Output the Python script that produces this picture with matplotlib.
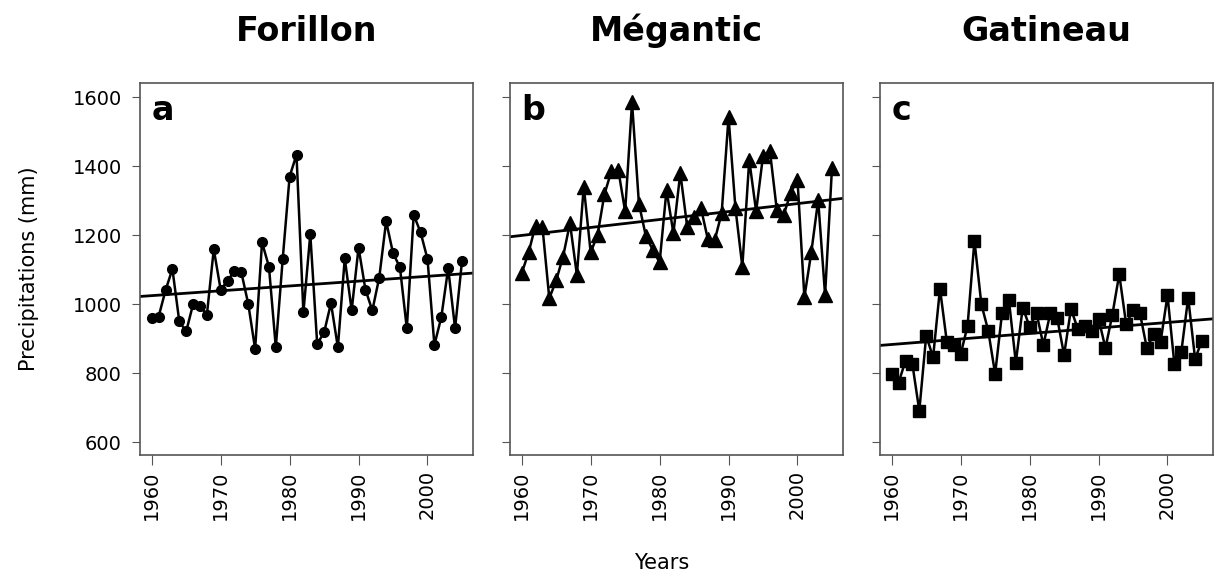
import numpy as np
import matplotlib.pyplot as plt

# ------------------ data ------------------
years = np.arange(1960, 2006)

forillon = [961, 964, 1040, 1102, 950, 921, 1000, 995, 969, 1159,
            1042, 1068, 1096, 1092, 1001, 870, 1179, 1109, 875, 1131,
            1370, 1433, 976, 1203, 885, 918, 1003, 875, 1133, 982,
            1164, 1042, 982, 1077, 1240, 1148, 1107, 930, 1259, 1208,
            1131, 882, 962, 1104, 930, 1124]

megantic = [1090, 1150, 1228, 1225, 1017, 1069, 1138, 1235, 1085, 1341,
            1150, 1201, 1319, 1385, 1390, 1269, 1585, 1291, 1198, 1158,
            1121, 1331, 1206, 1380, 1225, 1254, 1278, 1188, 1186, 1264,
            1542, 1278, 1109, 1418, 1269, 1430, 1444, 1273, 1259, 1322,
            1360, 1020, 1150, 1302, 1027, 1394]

gatineau = [798, 773, 836, 826, 691, 909, 846, 1045, 890, 882,
            855, 937, 1184, 1000, 923, 798, 974, 1011, 831, 990,
            935, 974, 882, 974, 960, 853, 986, 928, 937, 921,
            958, 873, 969, 1087, 942, 983, 974, 873, 913, 891,
            1026, 826, 861, 1019, 842, 894]

sites = ["Forillon", "Mégantic", "Gatineau"]
letters = ["a", "b", "c"]
markers = ["o", "^", "s"]
msizes = [7, 10, 8.5]
series = [forillon, megantic, gatineau]

# ------------------ figure ------------------
fig = plt.figure(figsize=(12.17, 5.79), dpi=100)
lefts = [140, 510, 880]
spine_col = "#555555"

for i in range(3):
    ax = fig.add_axes([lefts[i] / 1217, 1 - 455 / 579, 333 / 1217, 372 / 579])
    vals = np.array(series[i])
    ax.plot(years, vals, color="black", lw=1.8, marker=markers[i],
            ms=msizes[i], mfc="black", mec="black")
    # linear trend
    slope, icpt = np.polyfit(years, vals, 1)
    xx = np.array([1958, 2007])
    ax.plot(xx, slope * xx + icpt, color="black", lw=2.0)

    ax.set_xlim(1958.3, 2006.6)
    ax.set_ylim(563, 1641)
    ax.set_xticks([1960, 1970, 1980, 1990, 2000])
    ax.set_yticks([600, 800, 1000, 1200, 1400, 1600])
    ax.tick_params(axis="x", labelrotation=90, labelsize=14, length=7,
                   color=spine_col, pad=4)
    ax.tick_params(axis="y", labelsize=14, length=6, color=spine_col, pad=7)
    if i > 0:
        ax.set_yticklabels([])
    for s in ax.spines.values():
        s.set_color(spine_col)
        s.set_linewidth(1.2)

    ax.text(0.035, 0.97, letters[i], transform=ax.transAxes, fontsize=24,
            fontweight="bold", va="top", ha="left")
    ax.set_title(sites[i], fontsize=24, fontweight="bold", pad=30)

    if i == 0:
        ax.set_ylabel("Precipitations (mm)", fontsize=15, labelpad=24)

fig.text(662 / 1217, 1 - 563 / 579, "Years", fontsize=15, ha="center", va="center")

fig.savefig("out.png", dpi=100)
